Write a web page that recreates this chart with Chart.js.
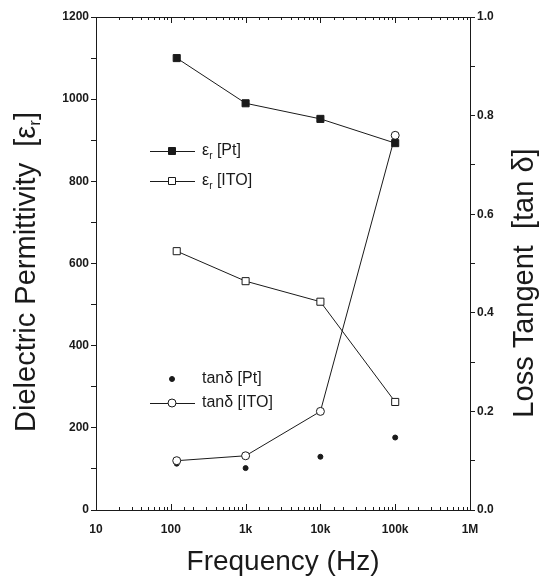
<!DOCTYPE html>
<html>
<head>
<meta charset="utf-8">
<script src="https://cdn.jsdelivr.net/npm/chart.js@4"></script>
<style>
  html, body { margin: 0; padding: 0; background: #fff; }
  #wrap { width: 555px; height: 579px; }
</style>
</head>
<body>
<div id="wrap"><canvas id="chart" width="555" height="579"></canvas></div>
<script>
// Frequencies (Hz)
const freqs = [120, 1000, 10000, 100000];
// Dielectric permittivity (left axis)
const epsPt = [1100, 990, 952, 893];
const epsITO = [630, 557, 507, 263];
// Loss tangent (right axis)
const tanPt = [0.094, 0.085, 0.108, 0.147];
const tanITO = [0.1, 0.11, 0.2, 0.76];

const xMajorLabels = { 10: '10', 100: '100', 1000: '1k', 10000: '10k', 100000: '100k', 1000000: '1M' };

const ink = '#1a1a1a';
const tickFont = { family: 'Liberation Sans', size: 12, weight: 'bold' };
const titleFont = '29px "Liberation Sans"';

function pts(xs, ys) {
    return xs.map((x, i) => ({ x: x, y: ys[i] }));
}

// Plot frame in pixels
const frame = { left: 96, right: 470, top: 17, bottom: 510 };

// Draw inward tick marks on the bottom/top log axis, titles and legend
const decorPlugin = {
    id: 'decor',
    afterDraw(chart) {
        const ctx = chart.ctx;
        const xs = chart.scales.x;
        const area = chart.chartArea;
        ctx.save();
        ctx.strokeStyle = ink;
        ctx.lineWidth = 1;
        xs.ticks.forEach(t => {
            const px = Math.round(xs.getPixelForValue(t.value)) + 0.5;
            const major = xMajorLabels[t.value] !== undefined;
            const len = major ? 6 : 3;
            ctx.beginPath();
            ctx.moveTo(px, area.bottom);
            ctx.lineTo(px, area.bottom - len);
            ctx.moveTo(px, area.top);
            ctx.lineTo(px, area.top + len);
            ctx.stroke();
        });
        // frame
        ctx.strokeRect(area.left + 0.5, area.top + 0.5, area.right - area.left, area.bottom - area.top);

        // axis titles
        ctx.fillStyle = ink;
        ctx.font = '28px "Liberation Sans"';
        ctx.textAlign = 'center';
        ctx.textBaseline = 'alphabetic';
        ctx.fillText('Frequency (Hz)', (area.left + area.right) / 2, 570);

        // left title with subscript r
        ctx.save();
        ctx.translate(35, 272);
        ctx.rotate(-Math.PI / 2);
        const main = 'Dielectric Permittivity  [ε';
        ctx.font = titleFont;
        const wMain = ctx.measureText(main).width;
        const wBr = ctx.measureText(']').width;
        ctx.font = '17px "Liberation Sans"';
        const wSub = ctx.measureText('r').width;
        let x = -(wMain + wSub + wBr) / 2;
        ctx.textAlign = 'left';
        ctx.font = titleFont;
        ctx.fillText(main, x, 0); x += wMain;
        ctx.font = '17px "Liberation Sans"';
        ctx.fillText('r', x, 5); x += wSub;
        ctx.font = titleFont;
        ctx.fillText(']', x, 0);
        ctx.restore();

        // right title
        ctx.save();
        ctx.translate(533, 283);
        ctx.rotate(-Math.PI / 2);
        ctx.font = titleFont;
        ctx.textAlign = 'center';
        ctx.fillText('Loss Tangent  [tan δ]', 0, 0);
        ctx.restore();

        // legend
        ctx.textBaseline = 'middle';
        function legendRow(y, style, filled, label, sub, rest, line) {
            const x0 = 150, x1 = 195, mx = 172;
            ctx.strokeStyle = ink;
            ctx.lineWidth = 1;
            if (line) {
                ctx.beginPath();
                ctx.moveTo(x0, y + 0.5);
                ctx.lineTo(x1, y + 0.5);
                ctx.stroke();
            }
            ctx.beginPath();
            if (style === 'rect') {
                ctx.rect(mx - 3.5, y - 3.5, 7, 7);
            } else {
                ctx.arc(mx, y, filled ? 2.5 : 4, 0, Math.PI * 2);
            }
            ctx.fillStyle = filled ? ink : '#fff';
            ctx.fill();
            ctx.stroke();
            ctx.fillStyle = ink;
            ctx.textAlign = 'left';
            ctx.font = '16px "Liberation Sans"';
            let lx = 202;
            ctx.fillText(label, lx, y);
            lx += ctx.measureText(label).width;
            if (sub) {
                ctx.font = '10px "Liberation Sans"';
                ctx.fillText(sub, lx, y + 5);
                lx += ctx.measureText(sub).width;
                ctx.font = '16px "Liberation Sans"';
            }
            ctx.fillText(rest, lx, y);
        }
        legendRow(151, 'rect', true, 'ε', 'r', ' [Pt]', true);
        legendRow(181, 'rect', false, 'ε', 'r', ' [ITO]', true);
        legendRow(379, 'circle', true, 'tanδ [Pt]', '', '', false);
        legendRow(403, 'circle', false, 'tanδ [ITO]', '', '', true);
        ctx.restore();
    }
};

const lineStyle = { borderColor: ink, borderWidth: 1, pointBorderColor: ink, pointBorderWidth: 1 };

new Chart(document.getElementById('chart'), {
    type: 'line',
    data: {
        datasets: [
            Object.assign({ label: 'εr [Pt]', data: pts(freqs, epsPt), yAxisID: 'y',
                pointStyle: 'rect', pointRadius: 5, pointBackgroundColor: ink }, lineStyle),
            Object.assign({ label: 'εr [ITO]', data: pts(freqs, epsITO), yAxisID: 'y',
                pointStyle: 'rect', pointRadius: 5, pointBackgroundColor: '#fff' }, lineStyle),
            Object.assign({ label: 'tanδ [ITO]', data: pts(freqs, tanITO), yAxisID: 'y1',
                pointStyle: 'circle', pointRadius: 4, pointBackgroundColor: '#fff' }, lineStyle),
            Object.assign({ label: 'tanδ [Pt]', data: pts(freqs, tanPt), yAxisID: 'y1', showLine: false,
                pointStyle: 'circle', pointRadius: 2.5, pointBackgroundColor: ink }, lineStyle)
        ]
    },
    options: {
        responsive: false,
        animation: false,
        layout: { padding: { top: frame.top, left: 0, right: 0, bottom: 0 } },
        plugins: { legend: { display: false }, tooltip: { enabled: false } },
        scales: {
            x: {
                type: 'logarithmic',
                min: 10,
                max: 1000000,
                grid: { display: false },
                border: { display: false },
                ticks: {
                    autoSkip: false,
                    maxRotation: 0,
                    padding: 4,
                    color: ink,
                    font: tickFont,
                    callback: v => xMajorLabels[v] !== undefined ? xMajorLabels[v] : ''
                },
                afterFit: s => { s.height = 579 - frame.bottom; }
            },
            y: {
                position: 'left',
                min: 0,
                max: 1200,
                grid: { drawOnChartArea: false, tickLength: 5, color: ink },
                border: { display: false },
                ticks: {
                    stepSize: 100,
                    padding: 2,
                    color: ink,
                    font: tickFont,
                    callback: v => v % 200 === 0 ? String(v) : ''
                },
                afterFit: s => { s.width = frame.left; }
            },
            y1: {
                position: 'right',
                min: 0,
                max: 1,
                grid: { drawOnChartArea: false, tickLength: 5, color: ink },
                border: { display: false },
                ticks: {
                    stepSize: 0.1,
                    padding: 2,
                    color: ink,
                    font: tickFont,
                    callback: v => Math.round(v * 10) % 2 === 0 ? v.toFixed(1) : ''
                },
                afterFit: s => { s.width = 555 - frame.right; }
            }
        }
    },
    plugins: [decorPlugin]
});
</script>
</body>
</html>
